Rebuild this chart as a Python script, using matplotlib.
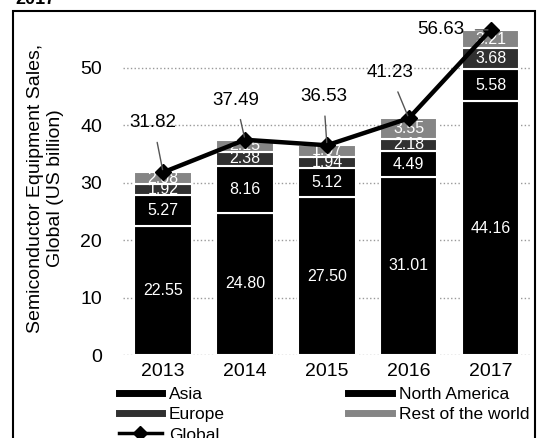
import matplotlib
matplotlib.use("Agg")
from matplotlib import pyplot as plt
from matplotlib.lines import Line2D
from matplotlib.patches import Rectangle

plt.rcParams['font.family'] = ['Liberation Sans', 'DejaVu Sans']

years = ['2013', '2014', '2015', '2016', '2017']
asia = [22.55, 24.80, 27.50, 31.01, 44.16]
north_america = [5.27, 8.16, 5.12, 4.49, 5.58]
europe = [1.92, 2.38, 1.94, 2.18, 3.68]
rest_world = [2.08, 2.15, 1.97, 3.55, 3.21]
global_total = [31.82, 37.49, 36.53, 41.23, 56.63]

# label offsets (x, y) of the global total labels, in data units
label_offsets = [(-0.12, 8.6), (-0.11, 6.9), (-0.04, 8.5), (-0.23, 7.9), (-0.61, 0.0)]

fig = plt.figure(figsize=(5.37, 4.38), dpi=100)
ax = fig.add_axes([123/537, 1-355/438, (530-123)/537, (355-22)/438])

x = list(range(len(years)))
series = [(asia, 'Asia', '#000000'),
          (north_america, 'North America', '#000000'),
          (europe, 'Europe', '#303030'),
          (rest_world, 'Rest of the world', '#858585')]

bottom = [0]*len(years)
for vals, name, col in series:
    ax.bar(x, vals, 0.7, bottom=bottom, color=col, edgecolor='white', linewidth=1.5, zorder=2)
    for i, v in enumerate(vals):
        ax.text(i, bottom[i]+v/2, '%.2f' % v, color='white', ha='center', va='center',
                fontsize=11.5, zorder=3)
    bottom = [b+v for b, v in zip(bottom, vals)]

ax.plot(x, global_total, color='black', lw=3.2, marker='D', markersize=8, zorder=5, clip_on=False)
for i, v in enumerate(global_total):
    dx, dy = label_offsets[i]
    ax.annotate('%.2f' % v, xy=(i, v), xytext=(i+dx, v+dy), ha='center', va='center',
                fontsize=13.5, zorder=6, annotation_clip=False,
                arrowprops=dict(arrowstyle='-', color='#555555', lw=1, shrinkA=6, shrinkB=2))

ax.set_xlim(-0.49, 4.48)
ax.set_ylim(0, 58)
ax.set_yticks([0, 10, 20, 30, 40, 50])
ax.set_xticks(x)
ax.set_xticklabels(years)
ax.tick_params(length=0, labelsize=14, pad=6)
ax.tick_params(axis='y', pad=15)
ax.yaxis.grid(True, color='#999999', linestyle=':', lw=1)
ax.set_axisbelow(True)
for s in ax.spines.values():
    s.set_visible(False)
ax.set_ylabel('Semiconductor Equipment Sales,\nGlobal (US billion)', fontsize=14, labelpad=12)

handles = [Line2D([], [], color='black', lw=5),
           Line2D([], [], color='#303030', lw=5),
           Line2D([], [], color='black', lw=2.5, marker='D', markersize=7),
           Line2D([], [], color='black', lw=5),
           Line2D([], [], color='#858585', lw=5)]
labels = ['Asia', 'Europe', 'Global', 'North America', 'Rest of the world']
fig.legend(handles, labels, ncol=2, loc='upper left', bbox_to_anchor=(110/537, 1-378/438),
           frameon=False, fontsize=12.5, borderpad=0, handlelength=2.5, handletextpad=0.4,
           columnspacing=7.1, labelspacing=0.3)

fig.patches.append(Rectangle((13/537, -0.05), (535-13)/537, 0.05+1-11/438, transform=fig.transFigure,
                             fill=False, edgecolor='black', lw=1.5))
fig.text(15/537, 1.0, '2017', fontsize=13, weight='bold', va='center', ha='left')

fig.savefig('out.png', dpi=100)
